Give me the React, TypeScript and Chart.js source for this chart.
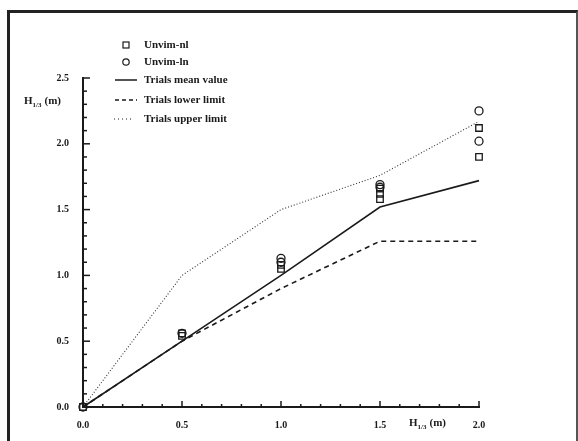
import React, { useEffect, useRef } from "react";
import { Chart, registerables } from "chart.js";

Chart.register(...registerables);

// Trials curves (x = incident H1/3)
const trialX = [0, 0.5, 1.0, 1.5, 2.0];
const trialMean = [0, 0.5, 1.0, 1.52, 1.72];
const trialLower = [0, 0.5, 0.9, 1.26, 1.26];
const trialUpper = [0, 1.0, 1.5, 1.76, 2.17];

// Model results
const nlX = [0, 0.5, 0.5, 1.0, 1.0, 1.5, 1.5, 1.5, 2.0, 2.0];
const nlY = [0, 0.54, 0.56, 1.05, 1.08, 1.58, 1.62, 1.66, 2.12, 1.9];
const lnX = [0, 0.5, 1.0, 1.0, 1.5, 1.5, 2.0, 2.0];
const lnY = [0, 0.56, 1.1, 1.13, 1.67, 1.69, 2.25, 2.02];

const xTickLabels = ["0.0", "0.5", "1.0", "1.5", "2.0"];
const yTickLabels = ["0.0", "0.5", "1.0", "1.5", "2.0", "2.5"];

const legendLabels = [
  "Unvim-nl",
  "Unvim-ln",
  "Trials mean value",
  "Trials lower limit",
  "Trials upper limit",
];

const SERIF = "'Liberation Serif', 'DejaVu Serif', serif";

function pts(xs: number[], ys: number[]) {
  return xs.map((x, i) => ({ x, y: ys[i] }));
}

const decoPlugin = {
  id: "deco",
  afterDraw(chart: any) {
    const ctx = chart.ctx as CanvasRenderingContext2D;
    const xs = chart.scales.x;
    const ys = chart.scales.y;
    const area = chart.chartArea;
    ctx.save();
    ctx.strokeStyle = "#1a1a1a";
    ctx.lineWidth = 1.5;
    // inward ticks x
    for (let i = 0; i <= 20; i++) {
      const v = i / 10;
      const px = xs.getPixelForValue(v);
      const len = i % 5 === 0 ? 6 : 3;
      ctx.beginPath();
      ctx.moveTo(px, area.bottom);
      ctx.lineTo(px, area.bottom - len);
      ctx.stroke();
    }
    for (let i = 0; i <= 25; i++) {
      const v = i / 10;
      const py = ys.getPixelForValue(v);
      const len = i % 5 === 0 ? 7 : 4;
      ctx.beginPath();
      ctx.moveTo(area.left, py);
      ctx.lineTo(area.left + len, py);
      ctx.stroke();
    }

    // axis titles
    const drawTitle = (x: number, y: number) => {
      ctx.fillStyle = "#1a1a1a";
      ctx.textBaseline = "alphabetic";
      ctx.textAlign = "left";
      ctx.font = `bold 11px ${SERIF}`;
      ctx.fillText("H", x, y);
      let w = ctx.measureText("H").width;
      ctx.font = `bold 7px ${SERIF}`;
      ctx.fillText("1/3", x + w, y + 3);
      w += ctx.measureText("1/3").width + 3;
      ctx.font = `bold 11px ${SERIF}`;
      ctx.fillText("(m)", x + w, y);
    };
    drawTitle(24, 104);
    drawTitle(409, 426);

    // legend
    const lx = 126;
    const tx = 144;
    const rows = [45, 62, 80, 100, 119];
    ctx.font = `bold 11px ${SERIF}`;
    ctx.textBaseline = "middle";
    ctx.textAlign = "left";
    ctx.fillStyle = "#1a1a1a";
    rows.forEach((ry, i) => ctx.fillText(legendLabels[i], tx, ry));
    ctx.lineWidth = 1.2;
    ctx.strokeRect(lx - 3, rows[0] - 3, 6, 6);
    ctx.beginPath();
    ctx.arc(lx, rows[1], 3.2, 0, Math.PI * 2);
    ctx.stroke();
    ctx.lineWidth = 1.5;
    ctx.beginPath();
    ctx.moveTo(115, rows[2]);
    ctx.lineTo(137, rows[2]);
    ctx.stroke();
    ctx.setLineDash([4, 3]);
    ctx.beginPath();
    ctx.moveTo(115, rows[3]);
    ctx.lineTo(137, rows[3]);
    ctx.stroke();
    ctx.setLineDash([1, 3]);
    ctx.lineWidth = 1.2;
    ctx.beginPath();
    ctx.moveTo(114, rows[4]);
    ctx.lineTo(134, rows[4]);
    ctx.stroke();
    ctx.restore();
  },
};

export default function App() {
  const ref = useRef<HTMLCanvasElement>(null);
  useEffect(() => {
    if (!ref.current) return;
    const chart = new Chart(ref.current, {
      type: "scatter",
      data: {
        datasets: [
          {
            label: legendLabels[0],
            data: pts(nlX, nlY),
            pointStyle: "rect",
            pointRadius: 4.6,
            pointBorderWidth: 1.3,
            borderColor: "#1a1a1a",
            backgroundColor: "rgba(255,255,255,0)",
            showLine: false,
            clip: false,
          },
          {
            label: legendLabels[1],
            data: pts(lnX, lnY),
            pointStyle: "circle",
            pointRadius: 4,
            pointBorderWidth: 1.3,
            borderColor: "#1a1a1a",
            backgroundColor: "rgba(255,255,255,0)",
            showLine: false,
            clip: false,
          },
          {
            label: legendLabels[2],
            data: pts(trialX, trialMean),
            showLine: true,
            pointRadius: 0,
            borderColor: "#1a1a1a",
            borderWidth: 1.6,
            clip: false,
          },
          {
            label: legendLabels[3],
            data: pts(trialX, trialLower),
            showLine: true,
            pointRadius: 0,
            borderColor: "#1a1a1a",
            borderWidth: 1.6,
            borderDash: [5, 4],
            clip: false,
          },
          {
            label: legendLabels[4],
            data: pts(trialX, trialUpper),
            showLine: true,
            pointRadius: 0,
            borderColor: "#333",
            borderWidth: 1.1,
            borderDash: [1, 2],
            clip: false,
          },
        ],
      },
      options: {
        responsive: false,
        animation: false,
        events: [],
        layout: { padding: { top: 78, right: 99, left: 0, bottom: 0 } },
        plugins: { legend: { display: false }, tooltip: { enabled: false } },
        scales: {
          x: {
            type: "linear",
            min: 0,
            max: 2,
            afterFit: (s: any) => {
              s.height = 34;
            },
            grid: { display: false },
            border: { display: true, color: "#1a1a1a", width: 2 },
            ticks: {
              stepSize: 0.5,
              padding: 4,
              color: "#1a1a1a",
              font: { family: SERIF, size: 10, weight: "bold" },
              callback: (v: any) => {
                const i = Math.round(Number(v) / 0.5);
                return xTickLabels[i] ?? "";
              },
            },
          },
          y: {
            type: "linear",
            min: 0,
            max: 2.5,
            afterFit: (s: any) => {
              s.width = 83;
            },
            grid: { display: false },
            border: { display: true, color: "#1a1a1a", width: 2 },
            ticks: {
              stepSize: 0.5,
              padding: 6,
              color: "#1a1a1a",
              font: { family: SERIF, size: 10, weight: "bold" },
              callback: (v: any) => {
                const i = Math.round(Number(v) / 0.5);
                return yTickLabels[i] ?? "";
              },
            },
          },
        },
      },
      plugins: [decoPlugin],
    } as any);
    return () => chart.destroy();
  }, []);

  return (
    <div
      style={{
        position: "fixed",
        left: 0,
        top: 0,
        width: 578,
        height: 441,
        background: "#fff",
        overflow: "hidden",
      }}
    >
      <div
        style={{
          position: "absolute",
          left: 7,
          top: 10,
          width: 571,
          height: 460,
          borderLeft: "3px solid #222",
          borderTop: "3px solid #222",
          borderRight: "2px solid #555",
          boxSizing: "border-box",
        }}
      />
      <canvas
        ref={ref}
        width={578}
        height={441}
        style={{ position: "absolute", left: 0, top: 0, width: 578, height: 441 }}
      />
    </div>
  );
}
